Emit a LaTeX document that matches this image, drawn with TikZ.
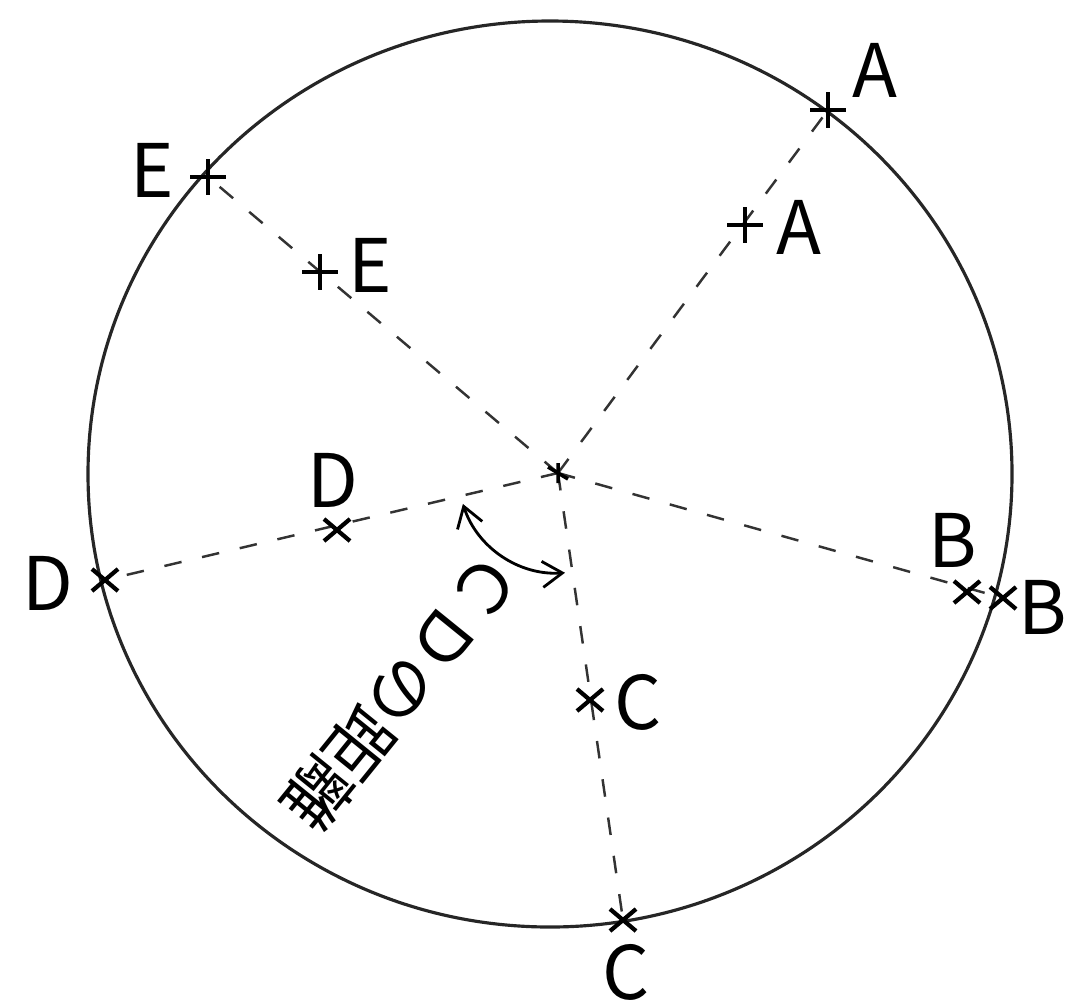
\documentclass[tikz,border=0pt]{standalone}
\usepackage{fontspec}
\setmainfont{Noto Sans CJK JP}
\usetikzlibrary{arrows.meta}
\tikzset{
  rim/.style={line width=0.9pt, draw=black!85},
  ray/.style={line width=0.7pt, draw=black!80, dash pattern=on 5pt off 6pt},
  pics/plusmk/.style={code={\draw[line width=1.2pt] (-18,0) -- (18,0) (0,-18) -- (0,18);}},
  pics/crossmk/.style={code={\draw[line width=1.2pt] (-13,-11) -- (13,11) (-13,11) -- (13,-11);}},
  lbl/.style={font=\fontsize{21}{24}\selectfont, inner sep=0pt},
  rotlbl/.style={font=\fontsize{19}{22}\selectfont, inner sep=0pt, rotate=231},
  anglearrow/.style={{Straight Barb[length=2mm,width=2.6mm]}-{Straight Barb[length=2mm,width=2.6mm]}, line width=0.8pt}
}
\begin{document}
\begin{tikzpicture}[x=0.01cm, y=-0.01cm]
  \useasboundingbox (0,0) rectangle (1065,1006);
  \coordinate (M) at (550,474);
  \coordinate (O) at (558,473);
  \coordinate (Ao) at (828,110);
  \coordinate (Ai) at (745,225);
  \coordinate (Bo) at (1003,598);
  \coordinate (Bi) at (967,592);
  \coordinate (Co) at (623,920);
  \coordinate (Ci) at (590,700);
  \coordinate (Do) at (105,580);
  \coordinate (Di) at (337,530);
  \coordinate (Eo) at (208,177);
  \coordinate (Ei) at (320,272);
  \draw[rim] (M) ellipse[x radius=462, y radius=453];
  \foreach \p in {Ao,Bo,Co,Do,Eo}
    \draw[ray] (O) -- (\p);
  \foreach \p in {Ao,Ai,Eo,Ei}
    \pic at (\p) {plusmk};
  \foreach \p in {Bo,Bi,Co,Ci,Do,Di}
    \pic at (\p) {crossmk};
  \draw[line width=1pt] (O) ++(-10,-6) -- ++(20,12) (O) ++(0,-10) -- ++(0,20);
  \node[lbl] (Aol) at (875,70) {A};
  \node[lbl] (Ail) at (799,227) {A};
  \node[lbl] (Bil) at (953,540) {B};
  \node[lbl] (Bol) at (1043,607) {B};
  \node[lbl] (Cil) at (638,702) {C};
  \node[lbl] (Col) at (626,972) {C};
  \node[lbl] (Dil) at (333,480) {D};
  \node[lbl] (Dol) at (48,583) {D};
  \node[lbl] (Eol) at (152,170) {E};
  \node[lbl] (Eil) at (370,265) {E};
  \draw[anglearrow] ([shift={(162:100)}]O) arc[start angle=162, end angle=86, radius=100];
  \node[rotlbl] (dist) at (402,691) {ＣＤの距離};
\end{tikzpicture}
\end{document}
